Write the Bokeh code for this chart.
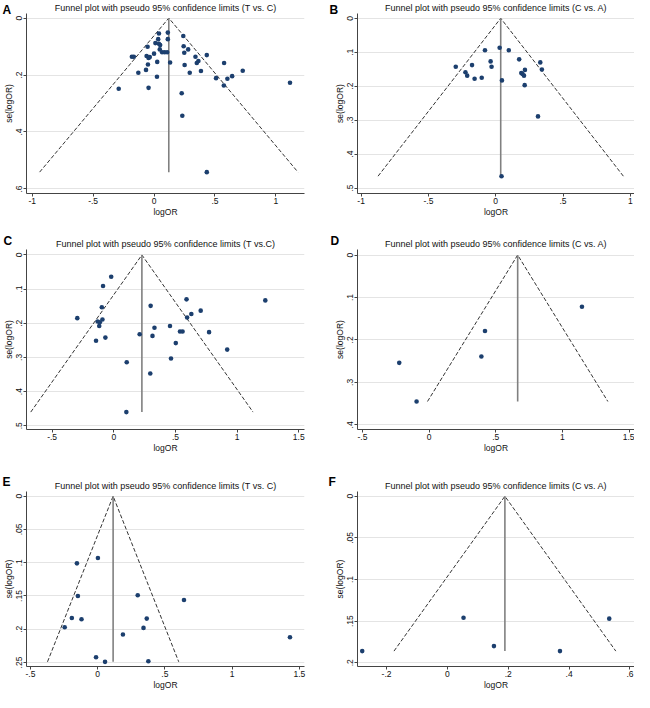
from bokeh.plotting import figure
from bokeh.layouts import gridplot
from bokeh.models import FixedTicker, Range1d, Label
from bokeh.embed import file_html
from bokeh.resources import INLINE

# ---------------- data ----------------
# Panel A  (T vs. C)
a_logor = [0.040, 0.113, 0.240, 0.034, 0.113, 0.011, 0.040, -0.053, 0.050, 0.243,
           0.280, -0.182, -0.166, -0.061, -0.045, -0.035, 0.000, 0.047, 0.066, 0.087,
           0.108, 0.248, 0.340, 0.433, 0.026, 0.132, -0.050, 0.251, 0.351, 0.364,
           0.575, -0.129, -0.066, 0.293, 0.385, 0.024, 0.509, 0.602, 0.641, 0.728,
           0.573, 1.116, -0.045, -0.290, 0.227, 0.232, 0.433]
a_se = [0.054, 0.051, 0.063, 0.074, 0.074, 0.088, 0.090, 0.101, 0.095, 0.099,
        0.110, 0.136, 0.136, 0.133, 0.140, 0.137, 0.125, 0.110, 0.120, 0.120,
        0.120, 0.122, 0.136, 0.130, 0.154, 0.156, 0.163, 0.165, 0.158, 0.151,
        0.158, 0.192, 0.182, 0.192, 0.186, 0.206, 0.211, 0.213, 0.204, 0.185,
        0.237, 0.227, 0.245, 0.248, 0.264, 0.343, 0.541]
a_pooled = 0.121

# Panel B  (C vs. A)
b_logor = [-0.080, 0.029, 0.097, -0.297, -0.176, -0.038, -0.031, -0.225, -0.212, -0.157,
           -0.104, 0.046, 0.174, 0.199, 0.190, 0.217, 0.210, 0.331, 0.343, 0.215,
           0.314, 0.043]
b_se = [0.094, 0.087, 0.094, 0.143, 0.138, 0.127, 0.143, 0.159, 0.169, 0.178,
        0.175, 0.183, 0.121, 0.164, 0.161, 0.152, 0.169, 0.130, 0.151, 0.197,
        0.289, 0.465]
b_pooled = 0.037

# Panel C  (T vs.C)
c_logor = [-0.021, -0.087, -0.296, -0.097, -0.131, -0.113, -0.092, -0.118, -0.144, -0.068,
           0.210, 0.299, 0.330, 0.314, 0.105, 0.296, 0.102, 0.456, 0.537, 0.558,
           0.503, 0.464, 0.590, 0.595, 0.629, 0.705, 0.773, 0.920, 1.229]
c_se = [0.064, 0.091, 0.185, 0.153, 0.195, 0.197, 0.189, 0.208, 0.251, 0.242,
        0.232, 0.149, 0.213, 0.237, 0.314, 0.347, 0.460, 0.208, 0.224, 0.224,
        0.258, 0.303, 0.130, 0.183, 0.173, 0.163, 0.226, 0.277, 0.133]
c_pooled = 0.228

# Panel D  (C vs. A)
d_logor = [1.146, 0.419, 0.392, -0.224, -0.094]
d_se = [0.122, 0.179, 0.239, 0.254, 0.345]
d_pooled = 0.664

# Panel E  (T vs. C)
e_logor = [-0.154, 0.002, -0.147, 0.298, 0.642, -0.192, -0.120, -0.245, 0.365, 0.341,
           0.188, 1.430, -0.012, 0.055, 0.377]
e_se = [0.101, 0.093, 0.150, 0.149, 0.156, 0.183, 0.185, 0.197, 0.184, 0.198,
        0.208, 0.212, 0.242, 0.249, 0.248]
e_pooled = 0.115

# Panel F  (C vs. A)
f_logor = [-0.280, 0.053, 0.153, 0.370, 0.532]
f_se = [0.186, 0.146, 0.180, 0.186, 0.147]
f_pooled = 0.189

letters = ["A", "B", "C", "D", "E", "F"]
titles = [
    "Funnel plot with pseudo 95% confidence limits (T vs. C)",
    "Funnel plot with pseudo 95% confidence limits (C vs. A)",
    "Funnel plot with pseudo 95% confidence limits (T vs.C)",
    "Funnel plot with pseudo 95% confidence limits (C vs. A)",
    "Funnel plot with pseudo 95% confidence limits (T vs. C)",
    "Funnel plot with pseudo 95% confidence limits (C vs. A)",
]

x_ticks_ab = [-1, -0.5, 0, 0.5, 1]
x_labels_ab = ["-1", "-.5", "0", ".5", "1"]
x_ticks_cde = [-0.5, 0, 0.5, 1, 1.5]
x_labels_cde = ["-.5", "0", ".5", "1", "1.5"]
x_ticks_f = [-0.2, 0, 0.2, 0.4, 0.6]
x_labels_f = ["-.2", "0", ".2", ".4", ".6"]

y_ticks_a = [0, 0.2, 0.4, 0.6]
y_labels_a = ["0", ".2", ".4", ".6"]
y_ticks_bc = [0, 0.1, 0.2, 0.3, 0.4, 0.5]
y_labels_bc = ["0", ".1", ".2", ".3", ".4", ".5"]
y_ticks_d = [0, 0.1, 0.2, 0.3, 0.4]
y_labels_d = ["0", ".1", ".2", ".3", ".4"]
y_ticks_e = [0, 0.05, 0.1, 0.15, 0.2, 0.25]
y_labels_e = ["0", ".05", ".1", ".15", ".2", ".25"]
y_ticks_f = [0, 0.05, 0.1, 0.15, 0.2]
y_labels_f = ["0", ".05", ".1", ".15", ".2"]

x_ext = [(-1.047, 1.235), (-1.027, 1.031), (-0.708, 1.547), (-0.537, 1.540), (-0.529, 1.538), (-0.2955, 0.615)]
y_ext = [(0.616, -0.016), (0.516, -0.014), (0.511, -0.016), (0.411, -0.013), (0.256, -0.007), (0.2045, -0.0057)]

FONT = "Liberation Sans"
NAVY = "#1c3f6e"
W = 317
ROW_H = [230, 230, 232]
ROW_TB = [(13, 37), (19, 31), (31, 24)]
COL_LR = [(23, 13), (40, 0)]
LETTER_POS = [(2, 2), (12, 2), (3, 3), (13, 3), (2, 14), (11, 14)]


def panel(i, xs, ys, pooled, xt, xl, yt, yl):
    r, c = divmod(i, 2)
    h = ROW_H[r]
    top, bottom = ROW_TB[r]
    left, right = COL_LR[c]
    p = figure(width=W, height=h, output_backend="svg", toolbar_location=None,
               x_range=Range1d(*x_ext[i]), y_range=Range1d(*y_ext[i]),
               min_border_left=left, min_border_right=right,
               min_border_top=top, min_border_bottom=bottom)
    p.background_fill_color = "white"
    p.border_fill_color = "white"
    p.outline_line_color = None

    p.title.text = titles[i]
    p.title.align = "center"
    p.title.text_font = FONT
    p.title.text_font_size = "9px"
    p.title.text_font_style = "normal"
    p.title.text_color = "#111111"
    p.title.standoff = 1

    xtk = FixedTicker(ticks=xt)
    ytk = FixedTicker(ticks=yt)
    p.xaxis.ticker = xtk
    p.yaxis.ticker = ytk
    p.xaxis.major_label_overrides = {v: s for v, s in zip(xt, xl)}
    p.yaxis.major_label_overrides = {v: s for v, s in zip(yt, yl)}
    p.xaxis.axis_label = "logOR"
    p.yaxis.axis_label = "se(logOR)"
    p.yaxis.major_label_orientation = "vertical"
    for ax in (p.xaxis, p.yaxis):
        ax.axis_line_color = "#444444"
        ax.major_tick_line_color = "#444444"
        ax.major_tick_out = 3
        ax.major_tick_in = 0
        ax.minor_tick_line_color = None
        ax.major_label_standoff = 1
        ax.axis_label_standoff = 0
        ax.major_label_text_font = FONT
        ax.major_label_text_font_size = "8.5px"
        ax.major_label_text_color = "#111111"
        ax.axis_label_text_font = FONT
        ax.axis_label_text_font_size = "8.5px"
        ax.axis_label_text_font_style = "normal"
        ax.axis_label_text_color = "#111111"

    p.xgrid.visible = False
    p.ygrid.ticker = ytk
    p.ygrid.grid_line_color = "#e4e4e4"
    p.ygrid.grid_line_width = 1

    semax = max(ys)
    half = 1.96 * semax
    p.line([pooled - half, pooled, pooled + half], [semax, 0, semax],
           line_color="#333333", line_width=1, line_dash="4 2")
    p.line([pooled, pooled], [0, semax], line_color="#808080", line_width=1.6)
    p.scatter(xs, ys, size=4.6, fill_color=NAVY, line_color=None)

    lx, ly = LETTER_POS[i]
    side = "right" if c == 0 else "left"
    p.add_layout(Label(x=lx, y=ly, x_units="canvas", y_units="canvas",
                       text=letters[i], text_font=FONT, text_font_size="12px",
                       text_font_style="bold", text_baseline="top", text_align="left",
                       text_color="#000000"), side)
    return p


pa = panel(0, a_logor, a_se, a_pooled, x_ticks_ab, x_labels_ab, y_ticks_a, y_labels_a)
pb = panel(1, b_logor, b_se, b_pooled, x_ticks_ab, x_labels_ab, y_ticks_bc, y_labels_bc)
pc = panel(2, c_logor, c_se, c_pooled, x_ticks_cde, x_labels_cde, y_ticks_bc, y_labels_bc)
pd_ = panel(3, d_logor, d_se, d_pooled, x_ticks_cde, x_labels_cde, y_ticks_d, y_labels_d)
pe = panel(4, e_logor, e_se, e_pooled, x_ticks_cde, x_labels_cde, y_ticks_e, y_labels_e)
pf = panel(5, f_logor, f_se, f_pooled, x_ticks_f, x_labels_f, y_ticks_f, y_labels_f)

grid = gridplot([[pa, pb], [pc, pd_], [pe, pf]], toolbar_location=None)

open("out.html", "w").write(file_html(grid, INLINE))
